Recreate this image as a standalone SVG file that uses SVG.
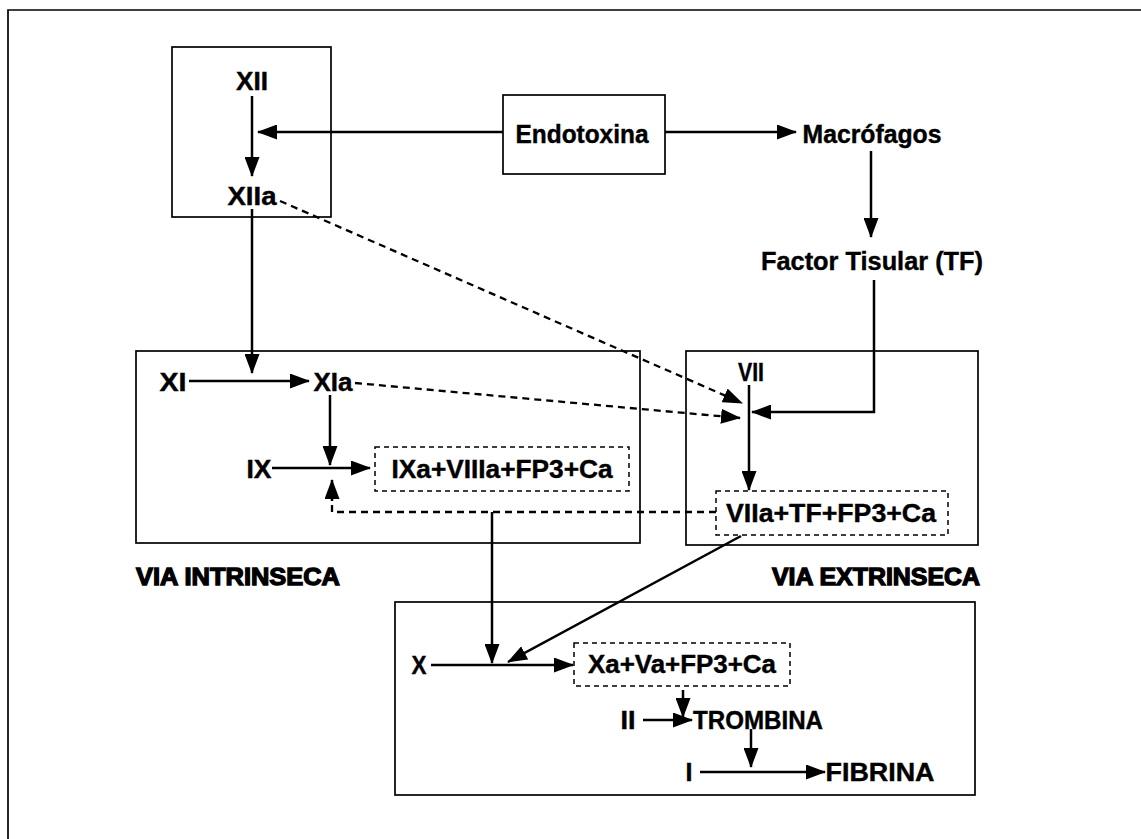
<svg xmlns="http://www.w3.org/2000/svg" width="1141" height="839" viewBox="0 0 1141 839">
<defs>
<marker id="ah" markerUnits="userSpaceOnUse" markerWidth="20" markerHeight="15" refX="19" refY="7.5" orient="auto">
<path d="M0,0 L20,7.5 L0,15 Z" fill="#000"/>
</marker>
<style>
.box{fill:none;stroke:#000;stroke-width:1.7}
.dbox{fill:none;stroke:#000;stroke-width:1.5;stroke-dasharray:5 4}
.ln{fill:none;stroke:#000;stroke-width:2.5}
.dl{fill:none;stroke:#000;stroke-width:2.3;stroke-dasharray:7 5}
.t{font-family:"Liberation Sans",Arial,sans-serif;font-weight:bold;font-size:25px;fill:#000;text-anchor:middle;stroke:#000;stroke-width:0.4}
.h{font-family:"Liberation Sans",Arial,sans-serif;font-weight:bold;font-size:24px;fill:#000;stroke:#000;stroke-width:1.3}
</style>
</defs>
<rect width="1141" height="839" fill="#fff"/>
<g id="frame">
<path d="M8,839 L8,10 L1141,10" class="box"/>
</g>
<g id="via-intrinseca">
<rect x="136" y="351" width="504" height="192" class="box"/>
<text x="136" y="585" class="h" textLength="204" lengthAdjust="spacingAndGlyphs">VIA INTRINSECA</text>
</g>
<g id="via-extrinseca">
<rect x="686" y="351" width="292" height="194" class="box"/>
<text x="980" y="585" class="h" text-anchor="end" textLength="208" lengthAdjust="spacingAndGlyphs">VIA EXTRINSECA</text>
</g>
<g id="via-comun">
<rect x="395" y="602" width="580" height="193" class="box"/>
</g>
<g id="xii-box">
<rect x="172" y="47" width="159" height="170" class="box"/>
</g>
<g id="n-XII"><text x="252" y="90" class="t" textLength="32" lengthAdjust="spacingAndGlyphs">XII</text></g>
<g id="n-XIIa"><text x="252" y="205" class="t" textLength="49" lengthAdjust="spacingAndGlyphs">XIIa</text></g>
<g id="n-endotoxina">
<rect x="503" y="95" width="162" height="79" class="box"/>
<text x="582" y="143" class="t" textLength="133" lengthAdjust="spacingAndGlyphs">Endotoxina</text>
</g>
<g id="n-macrofagos"><text x="872" y="143" class="t" textLength="139" lengthAdjust="spacingAndGlyphs">Macrófagos</text></g>
<g id="n-tf"><text x="872" y="270" class="t" textLength="222" lengthAdjust="spacingAndGlyphs">Factor Tisular (TF)</text></g>
<g id="n-XI"><text x="173" y="391" class="t" textLength="27" lengthAdjust="spacingAndGlyphs">XI</text></g>
<g id="n-XIa"><text x="333" y="391" class="t" textLength="39" lengthAdjust="spacingAndGlyphs">XIa</text></g>
<g id="n-IX"><text x="259" y="478" class="t" textLength="25" lengthAdjust="spacingAndGlyphs">IX</text></g>
<g id="n-IXa">
<rect x="375" y="447" width="254" height="44" class="dbox"/>
<text x="502" y="478" class="t" textLength="221" lengthAdjust="spacingAndGlyphs">IXa+VIIIa+FP3+Ca</text>
</g>
<g id="n-VII"><text x="751" y="381" class="t" textLength="26" lengthAdjust="spacingAndGlyphs">VII</text></g>
<g id="n-VIIa">
<rect x="716" y="491" width="232" height="44" class="dbox"/>
<text x="831" y="522" class="t" textLength="210" lengthAdjust="spacingAndGlyphs">VIIa+TF+FP3+Ca</text>
</g>
<g id="n-X"><text x="419" y="674" class="t" textLength="15" lengthAdjust="spacingAndGlyphs">X</text></g>
<g id="n-Xa">
<rect x="574" y="643" width="216" height="43" class="dbox"/>
<text x="682" y="673" class="t" textLength="188" lengthAdjust="spacingAndGlyphs">Xa+Va+FP3+Ca</text>
</g>
<g id="n-II"><text x="628" y="729" class="t" textLength="15" lengthAdjust="spacingAndGlyphs">II</text></g>
<g id="n-trombina"><text x="758" y="729" class="t" textLength="130" lengthAdjust="spacingAndGlyphs">TROMBINA</text></g>
<g id="n-I"><text x="689" y="781" class="t">I</text></g>
<g id="n-fibrina"><text x="880" y="781" class="t" textLength="109" lengthAdjust="spacingAndGlyphs">FIBRINA</text></g>
<g id="connectors">
<path d="M252,96 L252,176" class="ln" marker-end="url(#ah)"/>
<path d="M503,132 L258,132" class="ln" marker-end="url(#ah)"/>
<path d="M665,132 L796,132" class="ln" marker-end="url(#ah)"/>
<path d="M871,151 L871,237" class="ln" marker-end="url(#ah)"/>
<path d="M874,280 L874,412 L752,412" class="ln" marker-end="url(#ah)"/>
<path d="M252,209 L252,373" class="ln" marker-end="url(#ah)"/>
<path d="M189,381 L309,381" class="ln" marker-end="url(#ah)"/>
<path d="M330,395 L330,465" class="ln" marker-end="url(#ah)"/>
<path d="M272,468 L370,468" class="ln" marker-end="url(#ah)"/>
<path d="M749,385 L749,490" class="ln" marker-end="url(#ah)"/>
<path d="M280,201 L742,403" class="dl" marker-end="url(#ah)"/>
<path d="M355,383 L740,418" class="dl" marker-end="url(#ah)"/>
<path d="M716,512 L332,512 L332,500" class="dl"/>
<path d="M332,501 L332,480" class="ln" marker-end="url(#ah)"/>
<path d="M492,512 L492,663" class="ln" marker-end="url(#ah)"/>
<path d="M741,536 L508,662" class="ln" marker-end="url(#ah)"/>
<path d="M431,665 L573,665" class="ln" marker-end="url(#ah)"/>
<path d="M683,690 L683,717" class="ln" marker-end="url(#ah)"/>
<path d="M643,720 L692,720" class="ln" marker-end="url(#ah)"/>
<path d="M751,729 L751,767" class="ln" marker-end="url(#ah)"/>
<path d="M700,772 L825,772" class="ln" marker-end="url(#ah)"/>
</g>
</svg>
